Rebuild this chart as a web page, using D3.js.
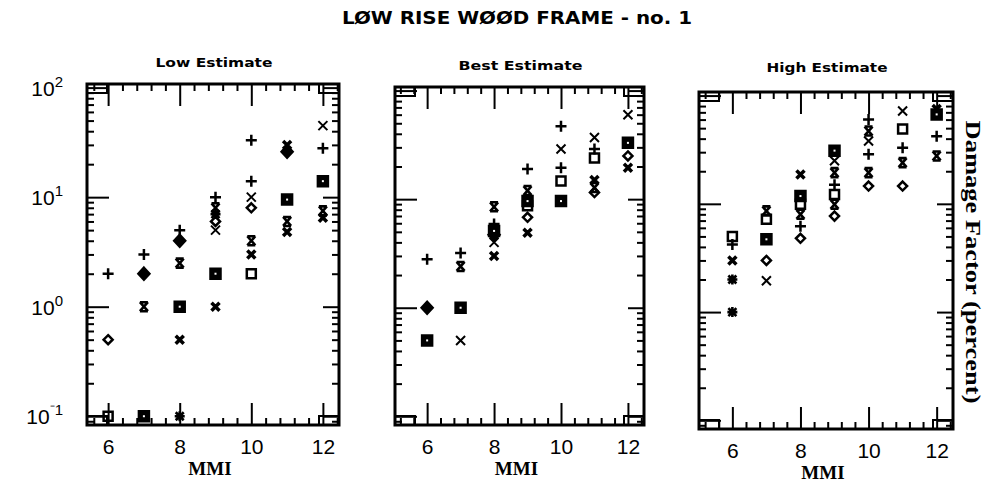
<!DOCTYPE html>
<html>
<head>
<meta charset="utf-8">
<script src="https://cdn.jsdelivr.net/npm/d3@7"></script>
<style>
body { margin: 0; background: #fff; }
svg { display: block; }
</style>
</head>
<body>
<div id="chart"></div>
<script>
const title = 'LØW RISE WØØD FRAME - no. 1';
const panelTitles = ['Low Estimate', 'Best Estimate', 'High Estimate'];
const mmiTicks = [6, 8, 10, 12];
const decades = [0.1, 1, 10, 100];
const decadeExp = ['-1', '0', '1', '2'];

// [MMI, marker, damage factor %]
const lowPoints = [
    [6, 'plus', 2], [6, 'diamondOpen', 0.5], [6, 'squareOpen', 0.1],
    [7, 'plus', 3], [7, 'diamondFilled', 2], [7, 'hourglass', 1], [7, 'squareFilled', 0.1],
    [8, 'plus', 5], [8, 'diamondFilled', 4], [8, 'hourglass', 2.5], [8, 'squareFilled', 1],
    [8, 'crossBold', 0.5], [8, 'asterisk', 0.1],
    [9, 'plus', 10], [9, 'hourglass', 8], [9, 'asterisk', 7], [9, 'diamondOpen', 6],
    [9, 'cross', 5], [9, 'squareFilled', 2], [9, 'crossBold', 1],
    [10, 'plus', 33], [10, 'plus', 14], [10, 'cross', 10], [10, 'diamondOpen', 8],
    [10, 'hourglass', 4], [10, 'crossBold', 3], [10, 'squareOpen', 2],
    [11, 'diamondFilled', 26], [11, 'crossBold', 30], [11, 'squareFilled', 9.5],
    [11, 'hourglass', 6], [11, 'crossBold', 4.8],
    [12, 'cross', 45], [12, 'plus', 28], [12, 'squareFilled', 14],
    [12, 'hourglass', 7.5], [12, 'crossBold', 6.5]
];
const bestPoints = [
    [6, 'plus', 2.8], [6, 'diamondFilled', 1], [6, 'squareFilled', 0.5],
    [7, 'plus', 3.2], [7, 'hourglass', 2.4], [7, 'squareFilled', 1], [7, 'cross', 0.5],
    [8, 'hourglass', 8.5], [8, 'plus', 5.9], [8, 'squareFilled', 5.1], [8, 'diamondFilled', 4.7],
    [8, 'cross', 4], [8, 'crossBold', 3],
    [9, 'plus', 19], [9, 'hourglass', 12], [9, 'squareFilled', 9.6], [9, 'squareOpen', 8.7],
    [9, 'diamondOpen', 6.8], [9, 'crossBold', 4.9],
    [10, 'plus', 47], [10, 'cross', 29], [10, 'plus', 19.5], [10, 'squareOpen', 14.7],
    [10, 'squareFilled', 9.6],
    [11, 'cross', 37], [11, 'plus', 29], [11, 'squareOpen', 24], [11, 'crossBold', 15],
    [11, 'hourglass', 12.8], [11, 'diamondOpen', 11.5],
    [12, 'cross', 60], [12, 'squareFilled', 33], [12, 'diamondOpen', 25], [12, 'crossBold', 19.5]
];
const highPoints = [
    [6, 'squareOpen', 5], [6, 'plus', 4.2], [6, 'crossBold', 3], [6, 'asterisk', 2], [6, 'asterisk', 1],
    [7, 'hourglass', 8.6], [7, 'squareOpen', 7.2], [7, 'squareFilled', 4.7],
    [7, 'diamondOpen', 3], [7, 'cross', 1.95],
    [8, 'crossBold', 18.7], [8, 'squareFilled', 11.8], [8, 'squareOpen', 9.9], [8, 'hourglass', 8],
    [8, 'plus', 6.2], [8, 'diamondOpen', 4.8],
    [9, 'squareFilled', 31], [9, 'cross', 25], [9, 'hourglass', 19.4], [9, 'plus', 15],
    [9, 'squareOpen', 12.2], [9, 'hourglass', 9.9], [9, 'diamondOpen', 7.7],
    [10, 'plus', 60], [10, 'hourglass', 47], [10, 'cross', 38], [10, 'plus', 28.7],
    [10, 'hourglass', 19.4], [10, 'diamondOpen', 14.6],
    [11, 'cross', 72], [11, 'squareOpen', 49], [11, 'plus', 33], [11, 'hourglass', 24],
    [11, 'diamondOpen', 14.6],
    [12, 'crossBold', 75], [12, 'squareFilled', 67], [12, 'plus', 42], [12, 'hourglass', 27.7]
];

// frame of each panel on the page (scanned figure, so they differ a little)
const frames = [
    { x0: 87, x1: 339, y0: 84, y1: 425, lo: 5.41, hi: 12.45, titleY: 67, titleW: 117 },
    { x0: 395, x1: 644, y0: 87, y1: 425, lo: 5.04, hi: 12.48, titleY: 70, titleW: 124 },
    { x0: 699, x1: 953, y0: 92, y1: 429, lo: 5.02, hi: 12.48, titleY: 72, titleW: 121 }
];
const panelData = [lowPoints, bestPoints, highPoints];
const yMin = Math.pow(10, -1.08), yMax = Math.pow(10, 2.033);

const svg = d3.select('#chart')
    .append('svg')
    .attr('width', 987)
    .attr('height', 485)
    ;

svg.append('text')
    .attr('x', 517).attr('y', 24)
    .attr('text-anchor', 'middle')
    .attr('font-family', 'DejaVu Sans')
    .attr('font-weight', 'bold')
    .attr('font-size', 17)
    .attr('textLength', 350)
    .attr('lengthAdjust', 'spacingAndGlyphs')
    .text(title);

svg.append('text')
    .attr('transform', 'translate(966 262) rotate(90)')
    .attr('text-anchor', 'middle')
    .attr('font-family', 'Liberation Serif')
    .attr('font-weight', 'bold')
    .attr('font-size', 21)
    .attr('textLength', 283)
    .attr('lengthAdjust', 'spacingAndGlyphs')
    .text('Damage Factor (percent)');

function markerPath(type) {
    switch (type) {
        case 'plus': return 'M-5.5,0H5.5M0,-5.5V5.5';
        case 'cross': return 'M-4.5,-4.5L4.5,4.5M4.5,-4.5L-4.5,4.5';
        case 'crossBold': return 'M-4,-4L4,4M4,-4L-4,4';
        case 'hourglass': return 'M-4,-4.5H4M-4,4.5H4M-4,-4.5L4,4.5M4,-4.5L-4,4.5';
        case 'asterisk': return 'M-5,0H5M0,-5V5M-4,-4L4,4M4,-4L-4,4';
        case 'diamondFilled': return 'M0,-6L5.5,0L0,6L-5.5,0Z';
        case 'diamondOpen': return 'M0,-4.5L4.5,0L0,4.5L-4.5,0Z';
        case 'squareOpen': return 'M-4.5,-4.5H4.5V4.5H-4.5Z';
        case 'squareFilled': return 'M-5,-5H5V5H-5Z';
    }
}
function markerFill(type) {
    return (type === 'diamondFilled' || type === 'squareFilled') ? 'black' : 'none';
}
function markerWidth(type) {
    if (type === 'crossBold') return 3.5;
    if (type === 'cross') return 2;
    if (type === 'hourglass' || type === 'asterisk') return 2.6;
    return 2.5;
}

var minorY = [0.09];
decades.forEach(function (d) {
    for (var k = 2; k <= 9; k++) {
        if (d * k < yMax) minorY.push(d * k);
    }
});
var minorX = d3.range(5.2, 12.5, 0.4).filter(function (v) {
    return Math.abs(v / 2 - Math.round(v / 2)) > 0.01;
});

frames.forEach(function (f, i) {
    var x = d3.scaleLinear().domain([f.lo, f.hi]).range([f.x0, f.x1]);
    var y = d3.scaleLog().domain([yMin, yMax]).range([f.y1, f.y0]);
    var g = svg.append('g').attr('class', 'panel');
    var mx = minorX.filter(function (v) { return v > f.lo && v < f.hi; });

    g.append('g').attr('transform', 'translate(' + f.x0 + ',0)')
        .call(d3.axisLeft(y).tickValues(minorY).tickSize(-7).tickFormat(''));
    g.append('g').attr('transform', 'translate(' + f.x0 + ',0)')
        .call(d3.axisLeft(y).tickValues(decades).tickSize(-22).tickFormat(''));
    g.append('g').attr('transform', 'translate(' + f.x1 + ',0)')
        .call(d3.axisRight(y).tickValues(minorY).tickSize(-7).tickFormat(''));
    g.append('g').attr('transform', 'translate(' + f.x1 + ',0)')
        .call(d3.axisRight(y).tickValues(decades).tickSize(-16).tickFormat(''));
    g.append('g').attr('transform', 'translate(0,' + f.y0 + ')')
        .call(d3.axisTop(x).tickValues(mx).tickSize(-7).tickFormat(''));
    g.append('g').attr('transform', 'translate(0,' + f.y0 + ')')
        .call(d3.axisTop(x).tickValues(mmiTicks).tickSize(-22).tickFormat(''));
    g.append('g').attr('transform', 'translate(0,' + f.y1 + ')')
        .call(d3.axisBottom(x).tickValues(mx).tickSize(-7).tickFormat(''));
    var bx = g.append('g').attr('transform', 'translate(0,' + f.y1 + ')')
        .call(d3.axisBottom(x).tickValues(mmiTicks).tickSize(-22).tickPadding(14).tickFormat(d3.format('d')));
    bx.selectAll('text')
        .attr('font-family', 'Liberation Sans')
        .attr('font-size', 21)
        .attr('fill', 'black');

    g.selectAll('.domain').remove();
    g.selectAll('.tick line').attr('stroke', 'black').attr('stroke-width', 2);

    // frame and the little corner boxes of the plotter
    g.append('rect')
        .attr('x', f.x0).attr('y', f.y0)
        .attr('width', f.x1 - f.x0).attr('height', f.y1 - f.y0)
        .attr('fill', 'none').attr('stroke', 'black').attr('stroke-width', 3);
    [[f.x0, f.y0], [f.x1 - 20, f.y0], [f.x0, f.y1 - 9], [f.x1 - 20, f.y1 - 9]].forEach(function (c) {
        g.append('rect')
            .attr('x', c[0]).attr('y', c[1])
            .attr('width', 20).attr('height', 9)
            .attr('fill', 'none').attr('stroke', 'black').attr('stroke-width', 2);
    });

    g.append('text')
        .attr('x', (f.x0 + f.x1) / 2 + 1).attr('y', f.titleY)
        .attr('text-anchor', 'middle')
        .attr('font-family', 'DejaVu Sans')
        .attr('font-weight', 'bold')
        .attr('font-size', 13)
        .attr('textLength', f.titleW)
        .attr('lengthAdjust', 'spacingAndGlyphs')
        .text(panelTitles[i]);

    g.append('text')
        .attr('x', (f.x0 + f.x1) / 2 - 3).attr('y', f.y1 + 50)
        .attr('text-anchor', 'middle')
        .attr('font-family', 'Liberation Serif')
        .attr('font-weight', 'bold')
        .attr('font-size', 19)
        .text('MMI');

    if (i === 0) {
        decades.forEach(function (d, k) {
            var t = g.append('text')
                .attr('x', 63).attr('y', y(d) + 8)
                .attr('text-anchor', 'end')
                .attr('font-family', 'Liberation Sans')
                .attr('font-size', 21);
            t.append('tspan').text('10');
            t.append('tspan')
                .attr('dy', -9)
                .attr('font-size', 15)
                .text(decadeExp[k].replace('-', '\u207B'));
        });
    }

    g.selectAll('path.mark')
        .data(panelData[i])
        .enter().append('path')
        .attr('class', 'mark')
        .attr('transform', function (d) {
            return 'translate(' + x(d[0]) + ',' + y(d[2]) + ')';
        })
        .attr('d', function (d) { return markerPath(d[1]); })
        .attr('fill', function (d) { return markerFill(d[1]); })
        .attr('stroke', 'black')
        .attr('stroke-width', function (d) { return markerWidth(d[1]); });

    g.selectAll('rect.dot')
        .data(panelData[i].filter(function (d) { return d[1] === 'squareFilled'; }))
        .enter().append('rect')
        .attr('class', 'dot')
        .attr('x', function (d) { return x(d[0]) - 1; })
        .attr('y', function (d) { return y(d[2]) - 1; })
        .attr('width', 2).attr('height', 2)
        .attr('fill', 'white');
});
</script>
</body>
</html>
